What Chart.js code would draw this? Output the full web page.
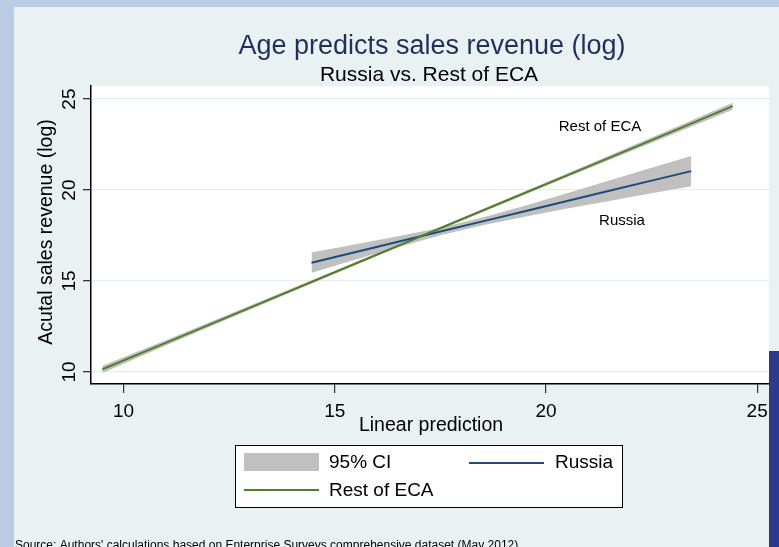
<!DOCTYPE html>
<html><head><meta charset="utf-8">
<script src="https://cdn.jsdelivr.net/npm/chart.js@4.4.1/dist/chart.umd.min.js"></script>
<style>html,body{margin:0;padding:0;background:#eaf1f3;overflow:hidden}</style>
</head><body>
<canvas id="c" width="779" height="547"></canvas>
<script>
const titleText = 'Age predicts sales revenue (log)';
const subtitleText = 'Russia vs. Rest of ECA';
const xAxisTitle = 'Linear prediction';
const yAxisTitle = 'Acutal sales revenue (log)';
const sourceText = "Source: Authors' calculations based on Enterprise Surveys comprehensive dataset (May 2012)";
const seriesNames = ['95% CI', 'Russia', 'Rest of ECA'];
const xTickValues = [10, 15, 20, 25];
const yTickValues = [10, 15, 20, 25];

const russiaX     = [14.45, 15.5, 16.5, 17.5, 18.5, 19.5, 20.5, 21.5, 22.5, 23.44];
const russiaFit   = [16.01, 16.60, 17.16, 17.72, 18.28, 18.84, 19.40, 19.96, 20.52, 21.04];
const russiaUpper = [16.57, 17.02, 17.46, 17.93, 18.49, 19.14, 19.82, 20.52, 21.22, 21.87];
const russiaLower = [15.45, 16.18, 16.86, 17.51, 18.07, 18.54, 18.98, 19.40, 19.82, 20.21];

const restX     = [9.5, 11, 13, 15, 17, 19, 21, 23, 24.42];
const restFit   = [10.15, 11.60, 13.54, 15.48, 17.42, 19.36, 21.29, 23.23, 24.61];
const restUpper = [10.35, 11.75, 13.65, 15.56, 17.49, 19.44, 21.40, 23.39, 24.80];
const restLower = [9.95, 11.45, 13.43, 15.40, 17.35, 19.28, 21.18, 23.07, 24.42];

const annotLabels = ['Rest of ECA', 'Russia'];
const annotX = [21.28, 21.80];
const annotY = [23.46, 18.29];

const FONT = '"Liberation Sans", Arial, Helvetica, sans-serif';
const CI_COLOR = '#c0c0c0';
const RUSSIA_COLOR = '#1d4b7a';
const REST_COLOR = '#517f2b';

const pts = (xs, ys) => xs.map((x, i) => ({x: x, y: ys[i]}));

const decor = {
  id: 'decor',
  beforeDraw(chart) {
    const ctx = chart.ctx, a = chart.chartArea;
    ctx.save();
    ctx.fillStyle = '#b9cce3';
    ctx.fillRect(0, 0, 779, 547);
    ctx.fillStyle = '#eaf1f3';
    ctx.fillRect(14, 7, 765, 540);
    ctx.fillStyle = '#ffffff';
    ctx.fillRect(a.left, a.top, a.right - a.left, a.bottom - a.top);
    ctx.restore();
  },
  afterDraw(chart) {
    const ctx = chart.ctx, a = chart.chartArea;
    const xs = chart.scales.x, ys = chart.scales.y;
    ctx.save();
    // titles
    ctx.textAlign = 'center';
    ctx.textBaseline = 'alphabetic';
    ctx.fillStyle = '#1f2f5e';
    ctx.font = '27px ' + FONT;
    ctx.fillText(titleText, 432, 54);
    ctx.fillStyle = '#000';
    ctx.font = '21px ' + FONT;
    ctx.fillText(subtitleText, 429, 81);
    // x axis title
    ctx.font = '19.5px ' + FONT;
    ctx.textBaseline = 'middle';
    ctx.fillText(xAxisTitle, (a.left + a.right) / 2 + 1, 426);
    // y axis title
    ctx.save();
    ctx.translate(47, (a.top + a.bottom) / 2 - 3);
    ctx.rotate(-Math.PI / 2);
    ctx.fillText(yAxisTitle, 0, 0);
    ctx.restore();
    // y tick labels (rotated)
    ctx.font = '19px ' + FONT;
    yTickValues.forEach(v => {
      ctx.save();
      ctx.translate(70, ys.getPixelForValue(v));
      ctx.rotate(-Math.PI / 2);
      ctx.fillText(String(v), 0, 0);
      ctx.restore();
    });
    // annotations
    ctx.font = '15px ' + FONT;
    annotLabels.forEach((t, i) => {
      ctx.fillText(t, xs.getPixelForValue(annotX[i]), ys.getPixelForValue(annotY[i]));
    });
    // legend box
    ctx.fillStyle = '#ffffff';
    ctx.fillRect(235, 445, 388, 63);
    ctx.strokeStyle = '#000';
    ctx.lineWidth = 1;
    ctx.strokeRect(235.5, 445.5, 387, 62);
    ctx.fillStyle = CI_COLOR;
    ctx.fillRect(244, 453, 75, 18);
    ctx.lineWidth = 2;
    ctx.strokeStyle = RUSSIA_COLOR;
    ctx.beginPath(); ctx.moveTo(469, 463); ctx.lineTo(544, 463); ctx.stroke();
    ctx.strokeStyle = REST_COLOR;
    ctx.beginPath(); ctx.moveTo(244, 490); ctx.lineTo(319, 490); ctx.stroke();
    ctx.fillStyle = '#000';
    ctx.font = '19px ' + FONT;
    ctx.textAlign = 'left';
    ctx.fillText(seriesNames[0], 329, 463);
    ctx.fillText(seriesNames[1], 555, 463);
    ctx.fillText(seriesNames[2], 329, 491);
    // source
    ctx.font = '12px ' + FONT;
    ctx.textBaseline = 'alphabetic';
    ctx.fillText(sourceText, 15, 549);
    // right dark bar
    ctx.fillStyle = '#2c3a8e';
    ctx.fillRect(769, 351, 10, 196);
    ctx.restore();
  }
};

new Chart(document.getElementById('c'), {
  type: 'line',
  data: {
    datasets: [
      {label: seriesNames[2], data: pts(restX, restFit), borderColor: REST_COLOR, borderWidth: 2, pointRadius: 0, fill: false, order: 0},
      {label: seriesNames[1], data: pts(russiaX, russiaFit), borderColor: RUSSIA_COLOR, borderWidth: 2, pointRadius: 0, fill: false, order: 1},
      {label: 'rest_upper', data: pts(restX, restUpper), borderColor: 'rgba(0,0,0,0)', borderWidth: 0, pointRadius: 0, backgroundColor: CI_COLOR, fill: '+1', order: 2},
      {label: 'rest_lower', data: pts(restX, restLower), borderColor: 'rgba(0,0,0,0)', borderWidth: 0, pointRadius: 0, fill: false, order: 3},
      {label: 'russia_upper', data: pts(russiaX, russiaUpper), borderColor: 'rgba(0,0,0,0)', borderWidth: 0, pointRadius: 0, backgroundColor: CI_COLOR, fill: '+1', order: 4},
      {label: 'russia_lower', data: pts(russiaX, russiaLower), borderColor: 'rgba(0,0,0,0)', borderWidth: 0, pointRadius: 0, fill: false, order: 5}
    ]
  },
  options: {
    responsive: false,
    animation: false,
    devicePixelRatio: 1,
    layout: {padding: {left: 0, right: 10, top: 86, bottom: 0}},
    elements: {line: {tension: 0}},
    plugins: {legend: {display: false}, tooltip: {enabled: false}, title: {display: false}},
    scales: {
      x: {
        type: 'linear', min: 9.23, max: 25.28,
        afterBuildTicks: s => { s.ticks = xTickValues.map(v => ({value: v})); },
        afterFit: s => { s.height = 163; },
        grid: {drawOnChartArea: false, tickLength: 9, tickColor: '#333', lineWidth: 1.2},
        border: {color: '#000', width: 1.5},
        ticks: {font: {family: FONT, size: 19}, color: '#000', padding: 7, maxRotation: 0, minRotation: 0, callback: v => String(v)}
      },
      y: {
        type: 'linear', min: 9.34, max: 25.72,
        afterBuildTicks: s => { s.ticks = yTickValues.map(v => ({value: v})); },
        afterFit: s => { s.width = 91; },
        grid: {color: '#e6eef2', tickLength: 8, tickColor: '#333', lineWidth: 1.3},
        border: {color: '#000', width: 1.5},
        ticks: {display: false}
      }
    }
  },
  plugins: [decor]
});
</script>
</body></html>
